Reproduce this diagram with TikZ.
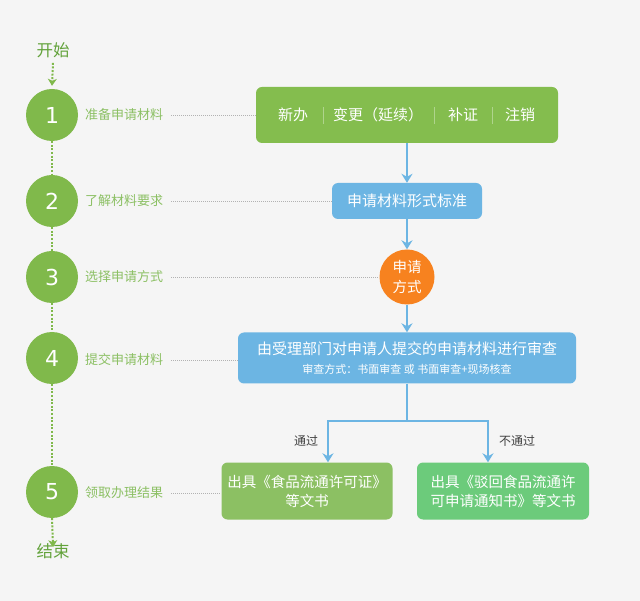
\documentclass[tikz,border=0pt]{standalone}
\usepackage{fontspec}
\setmainfont{Noto Sans CJK SC}
\newfontfamily\digitfont{DejaVu Sans}
\usetikzlibrary{arrows.meta}
\definecolor{bgcol}{HTML}{F5F5F5}
\definecolor{stepgreen}{HTML}{80B94B}
\definecolor{labelgreen}{HTML}{8CC064}
\definecolor{titlegreen}{HTML}{62A23A}
\definecolor{boxgreen}{HTML}{84BD4E}
\definecolor{passgreen}{HTML}{8CC063}
\definecolor{failgreen}{HTML}{6CCB7B}
\definecolor{flowblue}{HTML}{6CB5E3}
\definecolor{modeorange}{HTML}{F7821F}
\begin{document}
\begin{tikzpicture}[x=1pt,y=-1pt,
        stepdot/.style={circle,fill=stepgreen,minimum size=52pt,inner sep=0pt,text=white,font=\digitfont\fontsize{22}{22}\selectfont},
        steplabel/.style={anchor=west,inner sep=0pt,text=labelgreen,font=\fontsize{13}{15}\selectfont},
        trunk/.style={draw=stepgreen,line width=2pt,dash pattern=on 2pt off 1.6pt},
        guide/.style={draw=black!30,line width=0.6pt,dash pattern=on 1pt off 1pt},
        box/.style={rounded corners=6pt,inner sep=0pt,text=white,align=center},
        flow/.style={draw=flowblue,line width=1.8pt,-{Stealth[length=9pt,width=11pt,inset=3pt]}},
        flowline/.style={draw=flowblue,line width=1.8pt},
        sep/.style={draw=white!35!boxgreen,line width=0.7pt}]
    \fill[bgcol] (0,0) rectangle (640,601);

    % timeline on the left
    \node[text=titlegreen,font=\fontsize{16.5}{18}\selectfont,inner sep=0pt] (start) at (53,50) {开始};
    \node[stepdot] (s1) at (52,115) {1};
    \node[stepdot] (s2) at (52,201) {2};
    \node[stepdot] (s3) at (52,277) {3};
    \node[stepdot] (s4) at (52,358) {4};
    \node[stepdot] (s5) at (52,492) {5};
    \node[text=titlegreen,font=\fontsize{16.5}{18}\selectfont,inner sep=0pt] (end) at (53,551) {结束};

    \draw[trunk,-{Stealth[length=7pt,width=9pt,inset=2pt]}] ([yshift=-5pt]start.south) -- ([yshift=3pt]s1.north);
    \draw[trunk] (s1) -- (s2);
    \draw[trunk] (s2) -- (s3);
    \draw[trunk] (s3) -- (s4);
    \draw[trunk] (s4) -- (s5);
    \draw[trunk,-{Stealth[length=7pt,width=9pt,inset=2pt]}] (s5.south) -- ([yshift=-4pt]end.north);

    \node[steplabel] (l1) at (85,115) {准备申请材料};
    \node[steplabel] (l2) at (85,201) {了解材料要求};
    \node[steplabel] (l3) at (85,277) {选择申请方式};
    \node[steplabel] (l4) at (85,360) {提交申请材料};
    \node[steplabel] (l5) at (85,493) {领取办理结果};

    % flow on the right
    \node[box,fill=boxgreen,minimum width=302pt,minimum height=56pt] (apply) at (407,115) {};
    \node[text=white,font=\fontsize{15}{17}\selectfont] (new) at (293,115) {新办};
    \node[text=white,font=\fontsize{15}{17}\selectfont] (change) at (378,115) {变更（延续）};
    \node[text=white,font=\fontsize{15}{17}\selectfont] (reissue) at (463,115) {补证};
    \node[text=white,font=\fontsize{15}{17}\selectfont] (cancel) at (520,115) {注销};
    \draw[sep] (323,107) -- (323,124);
    \draw[sep] (434,107) -- (434,124);
    \draw[sep] (492,107) -- (492,124);

    \node[box,fill=flowblue,minimum width=150pt,minimum height=36pt,font=\fontsize{15}{17}\selectfont] (form) at (407,201) {申请材料形式标准};
    \node[circle,fill=modeorange,minimum size=55pt,inner sep=0pt,text=white,align=center,font=\fontsize{14.5}{20}\selectfont] (mode) at (407,277) {申请\\方式};
    \node[box,fill=flowblue,minimum width=338pt,minimum height=51pt,font=\fontsize{15}{18}\selectfont] (review) at (407,358)
        {由受理部门对申请人提交的申请材料进行审查\\[1pt]\fontsize{11}{13}\selectfont 审查方式：书面审查 或 书面审查+现场核查};
    \node[box,fill=passgreen,minimum width=171pt,minimum height=57pt,font=\fontsize{14.5}{19}\selectfont] (pass) at (307,491)
        {出具《食品流通许可证》\\等文书};
    \node[box,fill=failgreen,minimum width=172pt,minimum height=57pt,font=\fontsize{14.5}{19}\selectfont] (fail) at (503,491)
        {出具《驳回食品流通许\\可申请通知书》等文书};
    \coordinate (fork) at (407,421);

    \draw[flow] (apply) -- (form);
    \draw[flow] (form) -- (mode);
    \draw[flow] (mode) -- (review);
    \draw[flowline] (review) -- (fork);
    \draw[flow] (fork) -| ([xshift=21pt]pass.north);
    \draw[flow] (fork) -| ([xshift=-15pt]fail.north);

    \node[text=black!75,font=\fontsize{12}{14}\selectfont] (yes) at (306,441) {通过};
    \node[text=black!75,font=\fontsize{12}{14}\selectfont] (no) at (517,441) {不通过};

    % dotted guides
    \draw[guide,shorten <=8pt] (l1.east) -- (l1.east -| apply.west);
    \draw[guide,shorten <=8pt] (l2.east) -- (l2.east -| form.west);
    \draw[guide,shorten <=8pt] (l3.east) -- (l3.east -| mode.west);
    \draw[guide,shorten <=8pt] (l4.east) -- (l4.east -| review.west);
    \draw[guide,shorten <=8pt] (l5.east) -- (l5.east -| pass.west);
\end{tikzpicture}
\end{document}
